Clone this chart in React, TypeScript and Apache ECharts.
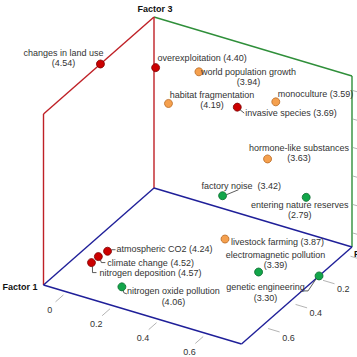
import React, { useEffect, useRef } from "react";
import * as echarts from "echarts";

// ---- data ----
const items = [
  "changes in land use",
  "overexploitation",
  "habitat fragmentation",
  "world population growth",
  "invasive species",
  "monoculture",
  "hormone-like substances",
  "factory noise",
  "entering nature reserves",
  "livestock farming",
  "electromagnetic pollution",
  "genetic engineering",
  "atmospheric CO2",
  "climate change",
  "nitrogen deposition",
  "nitrogen oxide pollution",
];
const means = [4.54, 4.4, 4.19, 3.94, 3.69, 3.59, 3.63, 3.42, 2.79, 3.87, 3.39, 3.3, 4.24, 4.52, 4.57, 4.06];
const factor1 = [0.33, 0.03, 0.14, 0.02, 0.08, 0.02, 0.08, 0.17, 0.07, 0.39, 0.4, 0.18, 0.55, 0.6, 0.65, 0.7];
const factor2 = [-0.1, -0.04, 0.08, 0.14, 0.34, 0.47, 0.47, 0.33, 0.63, 0.47, 0.62, 0.75, 0.06, 0.05, 0.05, 0.21];
const factor3 = [1.1, 0.85, 0.75, 0.9, 0.8, 0.85, 0.5, 0.25, 0.3, 0.2, 0.05, -0.1, 0.05, 0.05, 0.05, 0.0];
// cluster: 0 red, 1 orange, 2 green
const clusters = [0, 0, 1, 1, 0, 1, 1, 2, 2, 1, 2, 2, 0, 0, 0, 2];

const factor1Range = [-0.06, 0.745];
const factor2Range = [-0.1, 0.75];
const factor3Range = [-0.1, 1.1];
const factor1Ticks = [0, 0.2, 0.4, 0.6];
const factor2Ticks = [0, 0.2, 0.4, 0.6];
const factor3Ticks = [0, 0.2, 0.4, 0.6, 0.8, 1.0];

// ---- layout / styles ----
const ORIGIN = [154, 188];
const SPAN2 = [198, 59];
const SPAN1 = [-110.5, 97];
const SPAN3 = [0, -171];
const FONT = "'Liberation Sans', Arial, sans-serif";
const TEXT = "#333333";
const FILLS = ["#cc0000", "#f5a04e", "#12a64a"];
const STROKES = ["#7a0000", "#b86a25", "#0b6b2e"];
const EDGE_COLORS = ["#2f8f3a", "#bf2026", "#1f1f99"];

const labelLayout: any[] = [
  { dx: -37, dy: -6, align: "center", two: true },
  { dx: 2, dy: -10, align: "left" },
  { dx: 43.5, dy: -3.5, align: "center", two: true },
  { dx: 49.5, dy: 5, align: "center", two: true },
  { dx: 8, dy: 6, align: "left", leader: [[2, 2], [7, 6]] },
  { dx: 2, dy: -8, align: "left" },
  { dx: 31.5, dy: -6, align: "center", two: true },
  { dx: -21, dy: -10, align: "left", gap: "  ", leader: [[4, -1], [16, -6]] },
  { dx: -6.5, dy: 12.5, align: "center", two: true },
  { dx: 6, dy: 3, align: "left" },
  { dx: 17, dy: -12, align: "center", two: true },
  { dx: -53.5, dy: 16.5, align: "center", two: true, leader: [[-15, 15], [-11, 15], [-3, 3]] },
  { dx: 9, dy: -2, align: "left", leader: [[4, -1.5], [8, -1.5]] },
  { dx: 9, dy: 6, align: "left", leader: [[2, 3], [3, 6], [7, 6]] },
  { dx: 8, dy: 10, align: "left", leader: [[1, 4], [1, 10], [5, 10]] },
  { dx: 51.5, dy: 9.5, align: "center", two: true, leader: [[1, 3], [2, 6], [5, 7]] },
];

function proj(f2: number, f1: number, f3: number): number[] {
  const t2 = (f2 - factor2Range[0]) / (factor2Range[1] - factor2Range[0]);
  const t1 = (f1 - factor1Range[0]) / (factor1Range[1] - factor1Range[0]);
  const t3 = (f3 - factor3Range[0]) / (factor3Range[1] - factor3Range[0]);
  return [
    ORIGIN[0] + t2 * SPAN2[0] + t1 * SPAN1[0] + t3 * SPAN3[0],
    ORIGIN[1] + t2 * SPAN2[1] + t1 * SPAN1[1] + t3 * SPAN3[1],
  ];
}

function unit(v: number[]) {
  const l = Math.hypot(v[0], v[1]);
  return [v[0] / l, v[1] / l];
}

export default function App() {
  const ref = useRef<HTMLDivElement>(null);
  useEffect(() => {
    document.body.style.margin = "0";
    document.body.style.overflow = "hidden";
    const chart = echarts.init(ref.current!, null, { renderer: "svg" });
    const [a2, b2] = factor2Range;
    const [a1, b1] = factor1Range;
    const [a3, b3] = factor3Range;
    // edges: [f2,f1,f3, f2,f1,f3, colorIdx]
    const edges = [
      [a2, a1, b3, b2, a1, b3, 0],
      [b2, a1, a3, b2, a1, b3, 0],
      [a2, b1, a3, a2, b1, b3, 1],
      [a2, b1, b3, a2, a1, b3, 1],
      [a2, a1, a3, a2, a1, b3, 1],
      [a2, a1, a3, b2, a1, a3, 2],
      [a2, a1, a3, a2, b1, a3, 2],
      [a2, b1, a3, b2, b1, a3, 2],
      [b2, a1, a3, b2, b1, a3, 2],
    ];
    // ticks: [kind, value]
    const ticks: number[][] = [];
    factor2Ticks.forEach((v) => ticks.push([0, v]));
    factor1Ticks.forEach((v) => ticks.push([1, v]));
    factor3Ticks.forEach((v) => ticks.push([2, v]));
    const titles = [
      [a2, b1, a3, 0],
      [b2, a1, a3, 1],
      [a2, a1, b3, 2],
    ];
    const titleText = ["Factor 1", "Factor 2", "Factor 3"];
    const titleLayout: any[] = [
      { dx: -6, dy: 2, align: "right" },
      { dx: 2, dy: 7, align: "left" },
      { dx: 1, dy: -8.5, align: "center" },
    ];
    const points = items.map((_, i) => [factor2[i], factor1[i], factor3[i], i]);
    const d1 = unit(SPAN1);
    const d2 = unit(SPAN2);

    chart.setOption({
      animation: false,
      grid: { left: 0, right: 0, top: 0, bottom: 0 },
      xAxis: { type: "value", min: 0, max: 357, show: false },
      yAxis: { type: "value", min: 0, max: 357, inverse: true, show: false },
      series: [
        {
          type: "custom",
          name: "box",
          data: edges,
          silent: true,
          renderItem: (p: any, api: any) => {
            const s = api.coord(proj(api.value(0), api.value(1), api.value(2)));
            const e = api.coord(proj(api.value(3), api.value(4), api.value(5)));
            return {
              type: "line",
              shape: { x1: s[0], y1: s[1], x2: e[0], y2: e[1] },
              style: { stroke: EDGE_COLORS[api.value(6)], lineWidth: 1.4 },
            };
          },
        },
        {
          type: "custom",
          name: "ticks",
          data: ticks,
          silent: true,
          renderItem: (p: any, api: any) => {
            const kind = api.value(0);
            const v = api.value(1);
            let anchor: number[];
            let dir: number[];
            let r0: number, r1: number;
            let lab: number[] | null = null;
            if (kind === 0) {
              anchor = api.coord(proj(v, b1, a3));
              dir = d1; r0 = 4.5; r1 = 15;
              lab = [anchor[0] - 17, anchor[1] + 18];
            } else if (kind === 1) {
              anchor = api.coord(proj(b2, v, a3));
              dir = d2; r0 = 7; r1 = 19;
              lab = [anchor[0] + 27, anchor[1] + 11];
            } else {
              anchor = api.coord(proj(b2, a1, v));
              dir = d2; r0 = 1; r1 = 10;
            }
            const children: any[] = [
              {
                type: "line",
                shape: {
                  x1: anchor[0] + dir[0] * r0, y1: anchor[1] + dir[1] * r0,
                  x2: anchor[0] + dir[0] * r1, y2: anchor[1] + dir[1] * r1,
                },
                style: { stroke: "#b4b4b4", lineWidth: 1 },
              },
            ];
            if (lab && lab[0] < 352) {
              children.push({
                type: "text",
                style: {
                  x: lab[0], y: lab[1], text: String(v),
                  fill: TEXT, fontSize: 9, fontFamily: FONT,
                  align: "center", verticalAlign: "middle",
                },
              });
            }
            return { type: "group", children };
          },
        },
        {
          type: "custom",
          name: "titles",
          data: titles,
          silent: true,
          renderItem: (p: any, api: any) => {
            const i = api.value(3);
            const c = api.coord(proj(api.value(0), api.value(1), api.value(2)));
            const l = titleLayout[i];
            return {
              type: "text",
              style: {
                x: c[0] + l.dx, y: c[1] + l.dy, text: titleText[i],
                fill: "#111", fontSize: 9, fontWeight: "bold", fontFamily: FONT,
                align: l.align, verticalAlign: "middle",
              },
            };
          },
        },
        {
          type: "custom",
          name: "items",
          data: points,
          silent: true,
          renderItem: (p: any, api: any) => {
            const i = api.value(3);
            const c = api.coord(proj(api.value(0), api.value(1), api.value(2)));
            const l = labelLayout[i];
            const m = means[i].toFixed(2);
            const text = l.two ? `${items[i]}\n(${m})` : `${items[i]}${l.gap || " "}(${m})`;
            const children: any[] = [];
            if (l.leader) {
              children.push({
                type: "polyline",
                shape: { points: l.leader.map((q: number[]) => [c[0] + q[0], c[1] + q[1]]) },
                style: { stroke: "#333", lineWidth: 0.8, fill: null },
              });
            }
            children.push({
              type: "circle",
              shape: { cx: c[0], cy: c[1], r: 4 },
              style: { fill: FILLS[clusters[i]], stroke: STROKES[clusters[i]], lineWidth: 0.8 },
            });
            children.push({
              type: "text",
              style: {
                x: c[0] + l.dx, y: c[1] + l.dy, text,
                fill: TEXT, fontSize: 9, fontFamily: FONT, lineHeight: 10.5,
                align: l.align, verticalAlign: "middle",
              },
            });
            return { type: "group", children };
          },
        },
      ],
    });
    return () => chart.dispose();
  }, []);
  return <div ref={ref} style={{ width: 357, height: 357 }} />;
}
